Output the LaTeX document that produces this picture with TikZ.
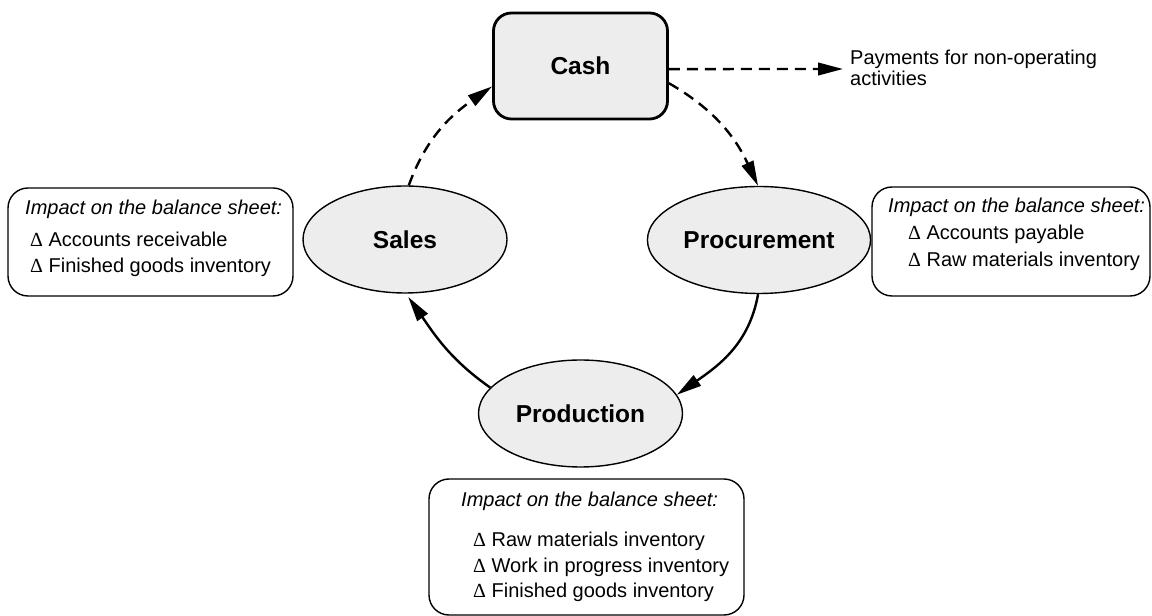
\documentclass[tikz,border=0pt]{standalone}
\usepackage{fontspec}
\setmainfont{Liberation Sans}
\newfontfamily\deltafont{Liberation Serif}
\usetikzlibrary{shapes.geometric,arrows.meta}
\definecolor{nodefill}{HTML}{EDEDED}
\newcommand{\dlt}{{\deltafont Δ}\ }
\begin{document}
\begin{tikzpicture}[x=1pt,y=1pt,
  bodytext/.style={font=\fontsize{20}{23}\selectfont, inner sep=0pt},
  headtext/.style={font=\fontsize{20}{23}\selectfont\itshape, inner sep=0pt},
  cycletext/.style={font=\fontsize{24.5}{28}\selectfont\bfseries},
  stage/.style={ellipse, draw, line width=1.4pt, fill=nodefill,
                minimum width=204pt, minimum height=107pt, cycletext},
  infobox/.style={draw, line width=1.4pt, rounded corners=20pt},
  flow/.style={line width=2.4pt, -{Triangle[length=25pt,width=12.5pt]}},
  cashflow/.style={flow, dash pattern=on 11pt off 7pt}
]
\useasboundingbox (0,0) rectangle (1152,616);

% cycle nodes
\node[draw, line width=2.8pt, fill=nodefill, rounded corners=18pt,
      minimum width=174pt, minimum height=106pt, cycletext] (cash) at (580.5,550) {Cash};
\node[stage] (sales) at (405,376.5) {Sales};
\node[stage] (procurement) at (759,376) {Procurement};
\node[stage] (production) at (580.5,202.5) {Production};

% balance sheet boxes
\node[infobox, minimum width=285pt, minimum height=108pt] (salesbox) at (150.5,374) {};
\node[headtext, anchor=base west] (salesh) at (25,401) {Impact on the balance sheet:};
\node[bodytext, anchor=base west] (salesa) at (30,369) {\dlt Accounts receivable};
\node[bodytext, anchor=base west] (salesb) at (30,343) {\dlt Finished goods inventory};

\node[infobox, minimum width=278pt, minimum height=109pt] (procbox) at (1011,374.5) {};
\node[headtext, anchor=base west] (proch) at (888,403) {Impact on the balance sheet:};
\node[bodytext, anchor=base west] (proca) at (908,376) {\dlt Accounts payable};
\node[bodytext, anchor=base west] (procb) at (908,349) {\dlt Raw materials inventory};

\node[infobox, minimum width=315pt, minimum height=136pt] (prodbox) at (586.5,69) {};
\node[headtext, anchor=base west] (prodh) at (461,109) {Impact on the balance sheet:};
\node[bodytext, anchor=base west] (proda) at (473,69) {\dlt Raw materials inventory};
\node[bodytext, anchor=base west] (prodb) at (473,43) {\dlt Work in progress inventory};
\node[bodytext, anchor=base west] (prodc) at (473,18) {\dlt Finished goods inventory};

% non-operating payments
\node[bodytext, anchor=base west] (pay1) at (850,551) {Payments for non-operating};
\node[bodytext, anchor=base west] (pay2) at (850,530) {activities};
\coordinate (payin) at (843,547);

% connectors
\draw[cashflow] (cash.-2) -- (payin);
\draw[cashflow] (sales.86) to[out=70, in=215] (cash.193);
\draw[cashflow] (cash.-11) to[out=-30, in=115] (procurement.91);
\draw[flow] (procurement.-91) to[out=-100, in=35] (production.11);
\draw[flow, shorten >=4pt] (production.164) to[out=145, in=-55] (sales.-89);
\end{tikzpicture}
\end{document}
